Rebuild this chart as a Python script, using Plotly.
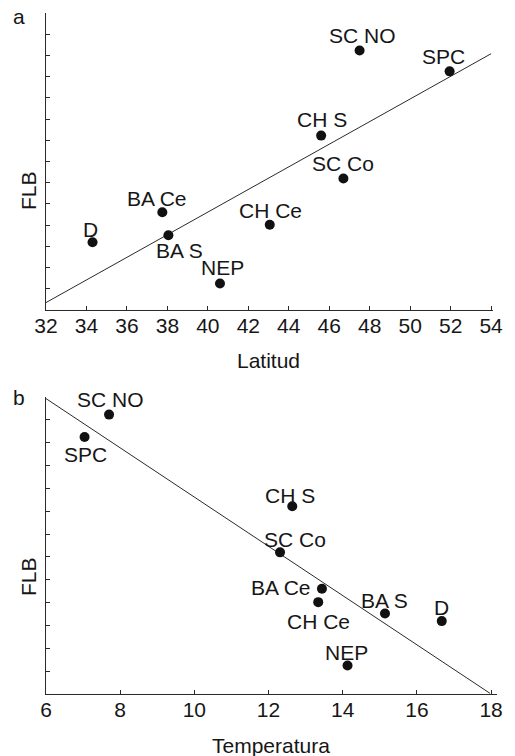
import plotly.graph_objects as go

# ---- data ----
sites = ["SC NO", "SPC", "CH S", "SC Co", "BA Ce", "CH Ce", "D", "BA S", "NEP"]
latitud = [47.5, 51.95, 45.6, 46.7, 37.75, 43.06, 34.3, 38.05, 40.6]
temperatura = [7.70, 7.04, 12.64, 12.31, 13.44, 13.34, 16.67, 15.14, 14.13]
flb = [12.23, 11.25, 8.22, 6.2, 4.61, 4.02, 3.19, 3.52, 1.25]

# regression lines (end points)
fit_lat_x = [32, 54]
fit_lat_y = [0.35, 12.08]
fit_temp_x = [6, 17.97]
fit_temp_y = [12.93, 0.03]

lat_ticks = list(range(32, 55, 2))
temp_ticks = list(range(6, 19, 2))

# ---- label offsets (px) ----
off_a = {"SC NO": (3, 15), "SPC": (-6, 15), "CH S": (1, 16), "SC Co": (0, 15),
         "BA Ce": (-5, 14), "CH Ce": (1, 14), "D": (-2, 13), "BA S": (11, -15),
         "NEP": (3, 16)}
off_b = {"SC NO": (1, 15), "SPC": (1, -18), "CH S": (-2, 11), "SC Co": (15, 13),
         "BA Ce": (-41, 1), "CH Ce": (0, -19), "BA S": (0, 13), "D": (0, 14),
         "NEP": (-1, 13)}

W, H = 515, 756
FONT = "Liberation Sans, Arial, sans-serif"
TXT = "#161616"
AX = "#2a2a2a"
FS = 21

fig = go.Figure()

# panel a
fig.add_trace(go.Scatter(x=fit_lat_x, y=fit_lat_y, mode="lines",
                         line=dict(color=AX, width=1), xaxis="x", yaxis="y",
                         showlegend=False, hoverinfo="skip"))
fig.add_trace(go.Scatter(x=latitud, y=flb, mode="markers",
                         marker=dict(color="#111111", size=10), xaxis="x", yaxis="y",
                         showlegend=False))
# panel b
fig.add_trace(go.Scatter(x=fit_temp_x, y=fit_temp_y, mode="lines",
                         line=dict(color=AX, width=1), xaxis="x2", yaxis="y2",
                         showlegend=False, hoverinfo="skip"))
fig.add_trace(go.Scatter(x=temperatura, y=flb, mode="markers",
                         marker=dict(color="#111111", size=10), xaxis="x2", yaxis="y2",
                         showlegend=False))

ann = []
for s, x, y in zip(sites, latitud, flb):
    dx, dy = off_a[s]
    ann.append(dict(x=x, y=y, xref="x", yref="y", text=s, showarrow=False,
                    xshift=dx, yshift=dy, font=dict(size=FS, color=TXT, family=FONT)))
for s, x, y in zip(sites, temperatura, flb):
    dx, dy = off_b[s]
    ann.append(dict(x=x, y=y, xref="x2", yref="y2", text=s, showarrow=False,
                    xshift=dx, yshift=dy, font=dict(size=FS, color=TXT, family=FONT)))


def px(xp):
    return xp / W


def py(yp):
    return 1 - yp / H


# panel letters and axis titles
for txt, xp, yp, rot in [("a", 19, 17, 0), ("b", 19, 397, 0),
                         ("Latitud", 268, 360, 0), ("Temperatura", 271, 745, 0),
                         ("FLB", 28, 191, -90), ("FLB", 28, 577, -90)]:
    ann.append(dict(x=px(xp), y=py(yp), xref="paper", yref="paper", text=txt,
                    showarrow=False, textangle=rot, xanchor="center", yanchor="middle",
                    font=dict(size=FS, color=TXT, family=FONT)))

axis_common = dict(showline=True, linecolor=AX, linewidth=1, ticks="inside",
                   ticklen=4, tickcolor=AX, tickwidth=1, showgrid=False,
                   zeroline=False, mirror=False, automargin=False,
                   tickfont=dict(size=FS, color=TXT, family=FONT))

fig.update_layout(
    template="none",
    width=W, height=H, margin=dict(l=0, r=0, t=0, b=0, pad=0, autoexpand=False),
    paper_bgcolor="white", plot_bgcolor="white",
    xaxis=dict(axis_common, domain=[px(46), px(492.7)], range=[32, 54.08],
               tickvals=lat_ticks, anchor="y", ticklabelstandoff=-3),
    yaxis=dict(axis_common, domain=[py(310), py(13)], range=[0, 14],
               tickvals=list(range(0, 15)), showticklabels=False, anchor="x"),
    xaxis2=dict(axis_common, domain=[px(46), px(497)], range=[6, 18.16],
                tickvals=temp_ticks, anchor="y2", ticklabelstandoff=-3),
    yaxis2=dict(axis_common, domain=[py(694), py(397)], range=[0, 13],
                tickvals=list(range(0, 14)), showticklabels=False, anchor="x2"),
    annotations=ann,
)

fig.write_html("out.html", config={"displayModeBar": False},
               post_script="document.body.style.margin='0px';"
                           "document.body.style.overflow='hidden';")
